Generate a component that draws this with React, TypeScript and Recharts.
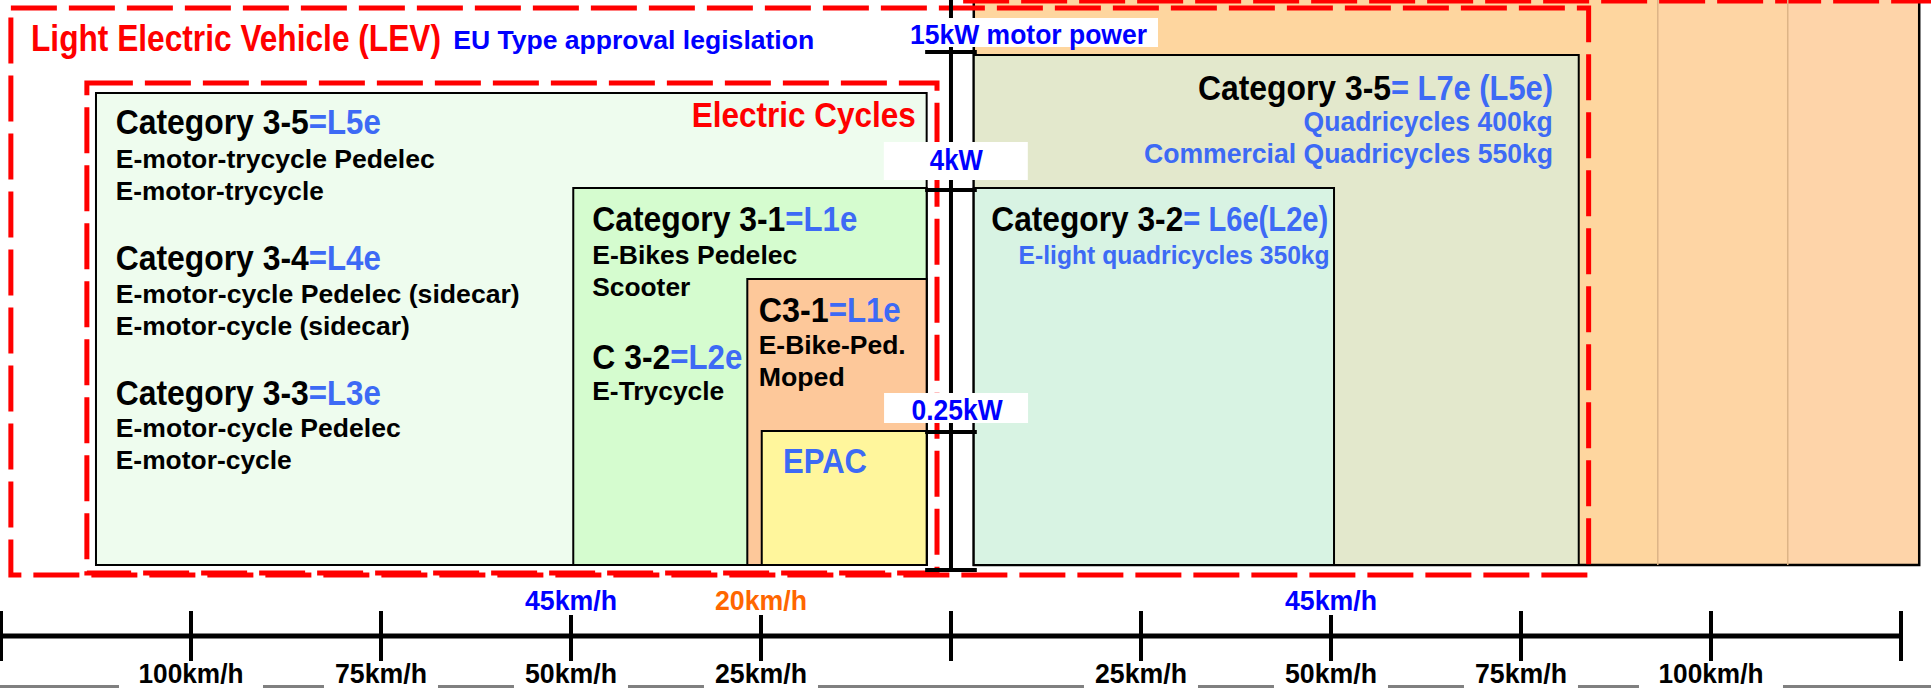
import React from "react";
import {
  ComposedChart,
  XAxis,
  YAxis,
  ReferenceArea,
  ReferenceLine,
  ReferenceDot,
} from "recharts";

// x = mirrored speed axis in km/h (left half negative), 0 = the motor power axis
// y = schematic power height, 0 = bottom edge of the category boxes
const X_MIN = -125.13;
const X_MAX = 128.95;
const Y_MIN = -123;
const Y_MAX = 565;

// speed scale under the figure
const speedTicks = [-125, -100, -75, -50, -25, 0, 25, 50, 75, 100, 125];
const speedTickLabels = ["", "100km/h", "75km/h", "50km/h", "25km/h", "", "25km/h", "50km/h", "75km/h", "100km/h", ""];
const speedLimits = [-50, -25, 50];
const speedLimitLabels = ["45km/h", "20km/h", "45km/h"];

// motor power steps on the middle axis
const powerSteps = [-5, 133, 375, 513];
const powerLabels = ["0.25kW", "4kW", "15kW motor power"];

// category boxes: speed from / to, power height
const boxNames = ["L7e", "L6e", "L5e", "L1e", "C3-1", "EPAC"];
const boxFrom = [3, 3, -112.5, -49.7, -26.8, -24.9];
const boxTo = [82.6, 50.4, -3.2, -3.2, -3.2, -3.2];
const boxTop = [510, 377, 472, 377, 286, 134];

// motor vehicle band behind (beyond the LEV frame)
const bandFrom = [3, 93, 110.1];
const bandTo = [93, 110.1, 127.4];

// dashed frames: LEV and Electric Cycles
const frameNames = ["LEV", "Electric Cycles"];
const frameFrom = [-123.7, -113.7];
const frameTo = [83.9, -1.84];
const frameBottom = [-10, -8];
const frameTop = [557, 482];

// texts
const titles = ["Light Electric Vehicle (LEV)", "EU Type approval legislation", "Electric Cycles"];
const leftHeads = ["Category 3-5", "Category 3-4", "Category 3-3"];
const leftCodes = ["=L5e", "=L4e", "=L3e"];
const leftTypes = [
  ["E-motor-trycycle Pedelec", "E-motor-trycycle"],
  ["E-motor-cycle Pedelec (sidecar)", "E-motor-cycle (sidecar)"],
  ["E-motor-cycle Pedelec", "E-motor-cycle"],
];
const midHeads = ["Category 3-1", "C 3-2", "C3-1"];
const midCodes = ["=L1e", "=L2e", "=L1e"];
const midTypes = [["E-Bikes Pedelec", "Scooter"], ["E-Trycycle"], ["E-Bike-Ped.", "Moped"]];
const rightHeads = ["Category 3-5", "Category 3-2"];
const rightCodes = ["= L7e (L5e)", "= L6e(L2e)"];
const rightTypes = [["Quadricycles 400kg", "Commercial Quadricycles 550kg"], ["E-light quadricycles 350kg"]];

const FONT = "'Liberation Sans', Arial, Helvetica, sans-serif";
const RED = "#FF0000";
const BLUE = "#0000FF";
const CODE_BLUE = "#3D6AF5";
const ORANGE = "#FF6600";
const BOX_FILLS = ["#E3E8CC", "#D8F3E3", "#EEFCEE", "#D5FCCF", "#FDC89A", "#FFF69C"];
const BAND_FILLS = ["#FED69F", "#FED5A4", "#FED4A9"];

// text piece: content, colour, drawn width
type Seg = [string, string, number];
type Note = { segs: Seg[]; x: number; y: number; size: number };

const HEAD = 35;
const SUB = 26;
const K = "#000";

const notes: Note[] = [
  { segs: [[titles[0], RED, 410]], x: -121.05, y: 514, size: 36 },
  { segs: [[titles[1], BLUE, 361]], x: -65.5, y: 516, size: 26 },
  { segs: [[titles[2], RED, 224]], x: -34.1, y: 438, size: 35 },
  // left box
  { segs: [[leftHeads[0], K, 193], [leftCodes[0], CODE_BLUE, 72]], x: -109.9, y: 431, size: HEAD },
  { segs: [[leftTypes[0][0], K, 319]], x: -109.9, y: 397, size: SUB },
  { segs: [[leftTypes[0][1], K, 208]], x: -109.9, y: 365, size: SUB },
  { segs: [[leftHeads[1], K, 193], [leftCodes[1], CODE_BLUE, 72]], x: -109.9, y: 295, size: HEAD },
  { segs: [[leftTypes[1][0], K, 404]], x: -109.9, y: 262, size: SUB },
  { segs: [[leftTypes[1][1], K, 294]], x: -109.9, y: 230, size: SUB },
  { segs: [[leftHeads[2], K, 193], [leftCodes[2], CODE_BLUE, 72]], x: -109.9, y: 160, size: HEAD },
  { segs: [[leftTypes[2][0], K, 285]], x: -109.9, y: 128, size: SUB },
  { segs: [[leftTypes[2][1], K, 176]], x: -109.9, y: 96, size: SUB },
  // middle boxes
  { segs: [[midHeads[0], K, 193], [midCodes[0], CODE_BLUE, 72]], x: -47.2, y: 334, size: HEAD },
  { segs: [[midTypes[0][0], K, 205]], x: -47.2, y: 301, size: SUB },
  { segs: [[midTypes[0][1], K, 98]], x: -47.2, y: 269, size: SUB },
  { segs: [[midHeads[1], K, 78], [midCodes[1], CODE_BLUE, 72]], x: -47.2, y: 196, size: HEAD },
  { segs: [[midTypes[1][0], K, 132]], x: -47.2, y: 165, size: SUB },
  { segs: [[midHeads[2], K, 70], [midCodes[2], CODE_BLUE, 72]], x: -25.3, y: 243, size: HEAD },
  { segs: [[midTypes[2][0], K, 147]], x: -25.3, y: 211, size: SUB },
  { segs: [[midTypes[2][1], K, 86]], x: -25.3, y: 179, size: SUB },
  { segs: [["EPAC", CODE_BLUE, 84]], x: -22.1, y: 92, size: 36 },
  // right boxes
  { segs: [[rightHeads[0], K, 193], [rightCodes[0], CODE_BLUE, 162]], x: 32.5, y: 465, size: HEAD },
  { segs: [[rightTypes[0][0], CODE_BLUE, 249]], x: 46.4, y: 434, size: 28 },
  { segs: [[rightTypes[0][1], CODE_BLUE, 409]], x: 25.4, y: 402, size: 28 },
  { segs: [[rightHeads[1], K, 192], [rightCodes[1], CODE_BLUE, 145]], x: 5.3, y: 334, size: HEAD },
  { segs: [[rightTypes[1][0], CODE_BLUE, 311]], x: 8.9, y: 301, size: 26 },
];

// power label placement: centre (km/h), baseline, text width, white box
const powerLabelPos = [
  { x: 0.8, y: 145, width: 91, size: 29, box: [-73, 71, -27, 3] },
  { x: 0.7, y: 395, width: 53, size: 29, box: [-72.5, 71.5, -28, 10] },
  { x: 10.2, y: 521, width: 237, size: 27, box: [-123.5, 129.5, -26, 3] },
];

// the original lettering is tall and narrow: pick a font size that fits the
// width, then stretch it vertically back to the wanted height
let measureCtx: CanvasRenderingContext2D | null = null;
function naturalWidth(text: string, size: number) {
  if (!measureCtx) measureCtx = document.createElement("canvas").getContext("2d");
  if (!measureCtx) return text.length * size * 0.55;
  measureCtx.font = `bold ${size}px ${FONT}`;
  return measureCtx.measureText(text).width;
}

function FitText({ x, y, text, color, size, width }: { x: number; y: number; text: string; color: string; size: number; width: number }) {
  const nat = naturalWidth(text, size);
  const f = Math.min(size, (size * width * 0.97) / nat);
  const sy = size / f;
  return (
    <text
      transform={`translate(${x},${y}) scale(1,${sy})`}
      x={0}
      y={0}
      fill={color}
      fontFamily={FONT}
      fontWeight="bold"
      fontSize={f}
      textLength={width}
      lengthAdjust="spacingAndGlyphs"
      style={{ whiteSpace: "pre" }}
    >
      {text}
    </text>
  );
}

const noteShape = (n: Note) => (p: any) => {
  let dx = 0;
  return (
    <g>
      {n.segs.map(([t, c, w], i) => {
        const x = p.cx + dx;
        dx += w;
        return <FitText key={i} x={x} y={p.cy} text={t} color={c} size={n.size} width={w} />;
      })}
    </g>
  );
};

const boxedShape =
  (label: string, color: string, size: number, width: number, box: number[]) => (p: any) =>
    (
      <g>
        <rect
          x={p.cx + box[0]}
          y={p.cy + box[2]}
          width={box[1] - box[0]}
          height={box[3] - box[2]}
          fill="#fff"
        />
        <FitText x={p.cx - width / 2} y={p.cy} text={label} color={color} size={size} width={width} />
      </g>
    );

const DASH = "46 12";

export default function App() {
  return (
    <div style={{ position: "absolute", left: 0, top: 0, width: 1931, height: 688, background: "#fff" }}>
      <ComposedChart width={1931} height={688} margin={{ top: 0, right: 0, bottom: 0, left: 0 }} data={[{ x: 0, y: 0 }]}>
        <XAxis type="number" dataKey="x" domain={[X_MIN, X_MAX]} allowDataOverflow hide />
        <YAxis type="number" domain={[Y_MIN, Y_MAX]} allowDataOverflow hide />

        {/* motor vehicle band */}
        {bandFrom.map((f, i) => (
          <ReferenceArea key={`band${i}`} x1={f} x2={bandTo[i]} y1={0} y2={580} fill={BAND_FILLS[i]} fillOpacity={1} stroke="none" ifOverflow="visible" />
        ))}
        <ReferenceArea x1={bandFrom[0]} x2={bandTo[2]} y1={0} y2={580} fill="none" stroke="#000" strokeWidth={2.5} ifOverflow="visible" />

        {/* category boxes */}
        {boxNames.map((name, i) => (
          <ReferenceArea
            key={name}
            x1={boxFrom[i]}
            x2={boxTo[i]}
            y1={0}
            y2={boxTop[i]}
            fill={BOX_FILLS[i]}
            fillOpacity={1}
            stroke="#000"
            strokeWidth={2}
            ifOverflow="visible"
          />
        ))}

        {/* dashed frames */}
        {frameNames.map((name, i) => (
          <ReferenceArea
            key={name}
            x1={frameFrom[i]}
            x2={frameTo[i]}
            y1={frameBottom[i]}
            y2={frameTop[i]}
            fill="none"
            stroke={RED}
            strokeWidth={5}
            strokeDasharray={DASH}
            ifOverflow="visible"
          />
        ))}
        <ReferenceLine segment={[{ x: 1.6, y: 564 }, { x: X_MAX, y: 564 }]} stroke={RED} strokeWidth={5} strokeDasharray={DASH} ifOverflow="visible" />

        {/* band dividers */}
        {[bandTo[0], bandTo[1]].map((v) => (
          <ReferenceLine key={`div${v}`} segment={[{ x: v, y: 0 }, { x: v, y: 580 }]} stroke="#DDB486" strokeWidth={1.5} ifOverflow="visible" />
        ))}

        {/* motor power axis */}
        <ReferenceLine segment={[{ x: 0, y: -7 }, { x: 0, y: Y_MAX }]} stroke="#000" strokeWidth={4} ifOverflow="visible" />
        {powerSteps.map((p) => (
          <ReferenceLine key={`pw${p}`} segment={[{ x: -3.4, y: p }, { x: 3.4, y: p }]} stroke="#000" strokeWidth={4} ifOverflow="visible" />
        ))}

        {/* speed axis */}
        <ReferenceLine y={-121.5} stroke="#808080" strokeWidth={3} ifOverflow="visible" />
        <ReferenceLine segment={[{ x: speedTicks[0], y: -71 }, { x: speedTicks[speedTicks.length - 1], y: -71 }]} stroke="#000" strokeWidth={5} ifOverflow="visible" />
        {speedTicks.map((v) => (
          <ReferenceLine
            key={`st${v}`}
            segment={[{ x: v, y: speedLimits.includes(v) ? -50 : -46 }, { x: v, y: -96 }]}
            stroke="#000"
            strokeWidth={4}
            ifOverflow="visible"
          />
        ))}

        {/* texts */}
        {notes.map((n, i) => (
          <ReferenceDot key={`n${i}`} x={n.x} y={n.y} r={0} ifOverflow="visible" shape={noteShape(n)} />
        ))}
        {powerLabels.map((lab, i) => {
          const pos = powerLabelPos[i];
          return (
            <ReferenceDot
              key={lab}
              x={pos.x}
              y={pos.y}
              r={0}
              ifOverflow="visible"
              shape={boxedShape(lab, BLUE, pos.size, pos.width, pos.box)}
            />
          );
        })}
        {speedLimits.map((v, i) => (
          <ReferenceDot
            key={`sl${i}`}
            x={v}
            y={-45}
            r={0}
            ifOverflow="visible"
            shape={boxedShape(speedLimitLabels[i], i === 1 ? ORANGE : BLUE, 27, 92, [0, 0, 0, 0])}
          />
        ))}
        {speedTicks.map((v, i) =>
          speedTickLabels[i] ? (
            <ReferenceDot
              key={`sb${i}`}
              x={v}
              y={-118}
              r={0}
              ifOverflow="visible"
              shape={boxedShape(
                speedTickLabels[i],
                "#000",
                27,
                speedTickLabels[i].length > 6 ? 105 : 92,
                speedTickLabels[i].length > 6 ? [-72, 72, -22, 6] : [-57, 57, -22, 6]
              )}
            />
          ) : null
        )}
      </ComposedChart>
    </div>
  );
}
